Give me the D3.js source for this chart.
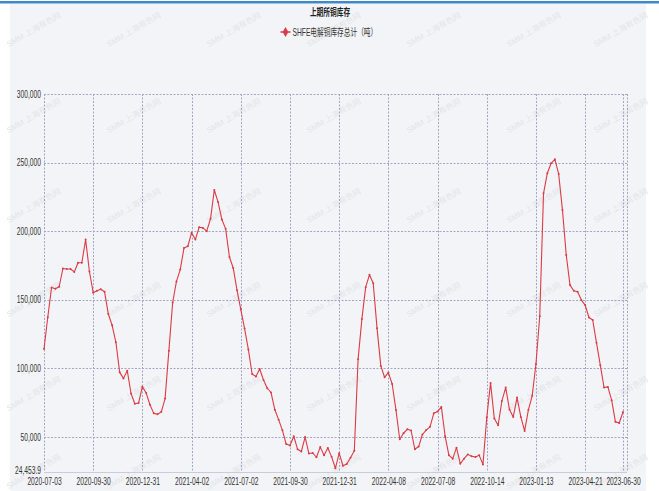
<!DOCTYPE html>
<html>
<head>
<meta charset="utf-8">
<script src="https://cdn.jsdelivr.net/npm/d3@7"></script>
<style>
body { margin: 0; background: #fff; }
svg { display: block; }
text { font-family: "Liberation Sans", "Noto Sans CJK SC", sans-serif; }
</style>
</head>
<body>
<div id="chart"></div>
<script>
// weekly SHFE cathode copper stocks (tonnes), 2020-07-03 .. 2023-06-30
const stocks = [
  114100, 137300, 159000, 158000, 159500, 172800, 172400, 172400, 170300, 177000,
  177000, 193900, 170600, 155200, 156600, 157700, 155900, 139600, 131400, 119000,
  97100, 92700, 98300, 81700, 74200, 74800, 86600, 82000, 73500, 67200,
  66500, 68300, 78000, 112900, 148000, 163400, 172000, 187800, 189000, 198800,
  193900, 202900, 202400, 200000, 209000, 230000, 221200, 208500, 201700, 181200,
  173200, 157000, 143000, 129000, 113800, 95900, 94000, 99500, 91500, 85500,
  82400, 69800, 62600, 54800, 44800, 43800, 50500, 41100, 39400, 49900,
  37900, 38300, 35200, 42600, 36600, 41900, 35500, 27171, 38200, 29000,
  30300, 34800, 40000, 106700, 135900, 159200, 168200, 162000, 129300, 101800,
  93500, 96900, 88600, 69700, 48300, 52700, 55600, 54700, 41000, 43000,
  51800, 55000, 57400, 67200, 68500, 71900, 50500, 36600, 34200, 42200,
  30500, 34200, 37300, 35900, 35400, 36600, 30000, 64100, 89400, 63400,
  58500, 76300, 86000, 70000, 64600, 78700, 64600, 54400, 69800, 80000,
  103200, 138000, 227600, 242200, 249500, 252400, 241700, 215500, 182600, 160700,
  156600, 155800, 149800, 146100, 137100, 135200, 118600, 102300, 86000, 86500,
  76800, 61000, 60200, 68200
];

// report days: Fridays, holiday weeks moved or missing
const skippedWeeks = ['2022-02-04', '2022-10-07', '2023-01-27'];
const movedDays = {'2020-10-02': '2020-09-30', '2021-01-01': '2020-12-31', '2021-10-01': '2021-09-30'};
const fmtDay = d3.utcFormat('%Y-%m-%d');
const dates = d3.utcFriday.range(new Date(Date.UTC(2020, 6, 3)), new Date(Date.UTC(2023, 6, 1)))
    .map(fmtDay)
    .filter(d => !skippedWeeks.includes(d))
    .map(d => movedDays[d] || d);

const xTickLabels = ['2020-07-03', '2020-09-30', '2020-12-31', '2021-04-02', '2021-07-02', '2021-09-30',
    '2021-12-31', '2022-04-08', '2022-07-08', '2022-10-14', '2023-01-13', '2023-04-21', '2023-06-30'];
const yTicks = [24453.9, 50000, 100000, 150000, 200000, 250000, 300000];

const title = '上期所铜库存';
const seriesName = 'SHFE电解铜库存总计（吨）';

const width = 659, height = 491;
const plot = {left: 44, right: 627, top: 94, bottom: 472};
const squeeze = 0.67;   // text in the original is horizontally condensed
const red = '#db3b45';
const gridColor = '#a2a6c2';

const svg = d3.select('#chart')
    .append('svg')
    .attr('width', width)
    .attr('height', height);

svg.append('rect')
    .attr('x', 10).attr('y', 4)
    .attr('width', 636).attr('height', height - 4)
    .attr('fill', '#f3f4f7');

svg.append('rect')
    .attr('x', 0).attr('y', 1)
    .attr('width', width).attr('height', 2.5)
    .attr('fill', '#3f88cc');

// watermark
const wm = svg.append('g').attr('fill', '#e3e4e9').attr('font-size', 8);
for (const wy of [32, 118, 208, 302, 396, 474]) {
    for (const wx of [35, 135, 235, 335, 435, 535, 622]) {
        wm.append('text')
            .attr('transform', `translate(${wx},${wy}) rotate(-30)`)
            .attr('text-anchor', 'middle')
            .text('SMM 上海有色网');
    }
}

const xScale = d3.scalePoint()
    .domain(dates)
    .range([plot.left, 623]);

const yScale = d3.scaleLinear()
    .domain([yTicks[0], yTicks[yTicks.length - 1]])
    .range([plot.bottom, plot.top]);

// grid
const grid = svg.append('g')
    .attr('stroke', gridColor)
    .attr('stroke-width', 1)
    .attr('stroke-dasharray', '2,1.5');

grid.selectAll('.hgrid')
    .data(yTicks.slice(1))
    .join('line')
    .attr('class', 'hgrid')
    .attr('x1', plot.left).attr('x2', plot.right)
    .attr('y1', d => Math.round(yScale(d)) + 0.5)
    .attr('y2', d => Math.round(yScale(d)) + 0.5);

grid.selectAll('.vgrid')
    .data(xTickLabels.map(d => xScale(d)).concat([plot.right]))
    .join('line')
    .attr('class', 'vgrid')
    .attr('x1', d => Math.round(d) + 0.5).attr('x2', d => Math.round(d) + 0.5)
    .attr('y1', plot.top).attr('y2', plot.bottom);

svg.append('line')
    .attr('x1', plot.left).attr('x2', plot.right)
    .attr('y1', Math.round(plot.bottom) + 0.5).attr('y2', Math.round(plot.bottom) + 0.5)
    .attr('stroke', '#c9ccdb');

// axes
const yAxis = svg.append('g')
    .attr('transform', `translate(${plot.left},0)`)
    .call(d3.axisLeft(yScale).tickValues(yTicks).tickSize(0).tickFormat(d3.format(',')));
yAxis.select('.domain').remove();
yAxis.selectAll('text')
    .attr('x', -3 / squeeze)
    .attr('transform', `scale(${squeeze},1)`)
    .attr('font-size', 10)
    .attr('fill', '#333');
yAxis.selectAll('.tick').filter(d => d === yTicks[0]).select('text').attr('dy', '0.1em');

const xAxis = svg.append('g')
    .attr('transform', `translate(0,${plot.bottom})`)
    .call(d3.axisBottom(xScale).tickValues(xTickLabels).tickSize(0).tickPadding(6));
xAxis.select('.domain').remove();
xAxis.selectAll('text')
    .attr('transform', `scale(${squeeze},1)`)
    .attr('font-size', 10)
    .attr('fill', '#333');

// series
const line = d3.line()
    .x((d, i) => xScale(dates[i]))
    .y(d => yScale(d));

svg.append('path')
    .datum(stocks)
    .attr('d', line)
    .attr('fill', 'none')
    .attr('stroke', red)
    .attr('stroke-width', 1.1)
    .attr('stroke-linejoin', 'round');

svg.append('g')
    .selectAll('circle')
    .data(stocks)
    .join('circle')
    .attr('cx', (d, i) => xScale(dates[i]))
    .attr('cy', d => yScale(d))
    .attr('r', 1)
    .attr('fill', red);

// title + legend
svg.append('text')
    .attr('transform', `translate(330,16) scale(${squeeze},1)`)
    .attr('text-anchor', 'middle')
    .attr('font-size', 10)
    .attr('font-weight', 'bold')
    .attr('fill', '#222')
    .text(title);

const legend = svg.append('g').attr('transform', 'translate(285.5,32)');
legend.append('line')
    .attr('x1', -5).attr('x2', 5)
    .attr('stroke', red).attr('stroke-width', 1.5);
legend.append('path')
    .attr('d', d3.symbol(d3.symbolDiamond).size(28))
    .attr('fill', red);
legend.append('text')
    .attr('transform', `translate(7,3.5) scale(${squeeze},1)`)
    .attr('font-size', 10)
    .attr('fill', '#333')
    .text(seriesName);
</script>
</body>
</html>
